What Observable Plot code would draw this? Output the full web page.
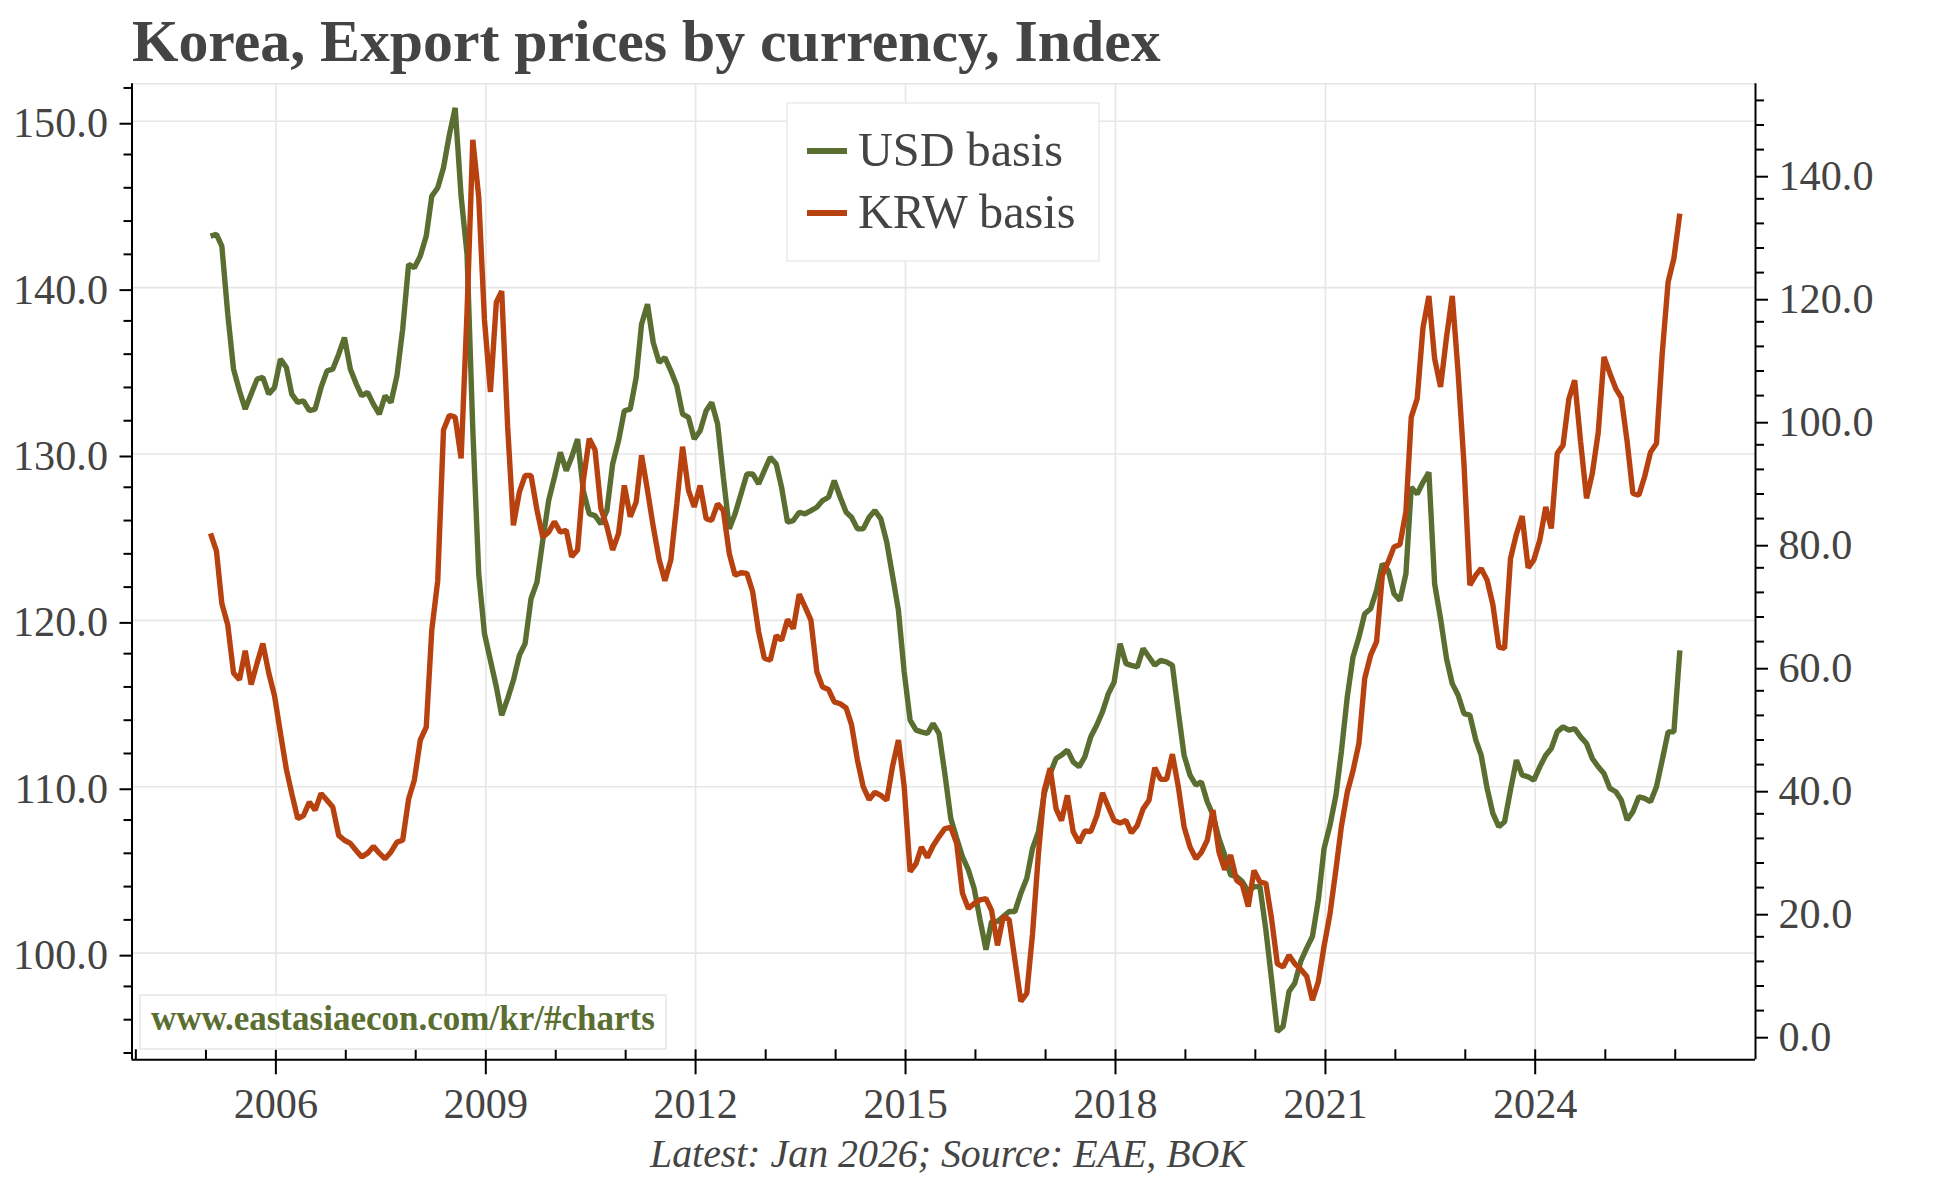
<!DOCTYPE html>
<html>
<head>
<meta charset="utf-8">
<script src="https://cdn.jsdelivr.net/npm/d3@7"></script>
<script src="https://cdn.jsdelivr.net/npm/@observablehq/plot@0.6"></script>
<style>
  html, body { margin: 0; padding: 0; background: #fff; overflow: hidden; }
  #page { position: relative; width: 1944px; height: 1178px; background: #fff; }
  #title, #caption { position: relative; width: 1944px; }
  #title span, #caption span { position: absolute; white-space: nowrap; line-height: 1; color: #444; }
  svg { display: block; }
</style>
</head>
<body>
<div id="page">
  <div id="title"><span></span></div>
  <div id="chart"></div>
  <div id="caption"><span></span></div>
</div>
<script>
// ---------------- data (monthly, Jan 2005 .. Jan 2026) ----------------
const startYear = 2005;
const startMonth = 0; // January

// Export price index, USD basis (left axis)
const usd = [
  143.1, 143.2, 142.5, 138.4, 135.1, 133.8, 132.7, 133.6, 134.5, 134.6, 133.6, 134.0, // 2005
  135.7, 135.2, 133.6, 133.1, 133.2, 132.6, 132.7, 134.0, 135.0, 135.1, 136.0, 137.0, // 2006
  135.1, 134.2, 133.5, 133.7, 133.0, 132.4, 133.5, 133.1, 134.7, 137.5, 141.4, 141.2, // 2007
  141.9, 143.1, 145.5, 146.0, 147.2, 149.2, 150.8, 145.5, 142.0, 131.5, 122.8, 119.2, // 2008
  117.6, 116.0, 114.3, 115.3, 116.4, 117.9, 118.6, 121.3, 122.3, 124.8, 127.2, 128.6, // 2009
  130.1, 129.0, 129.8, 130.9, 127.8, 126.4, 126.3, 125.8, 126.6, 129.4, 130.8, 132.6, // 2010
  132.7, 134.6, 137.8, 139.0, 136.7, 135.5, 135.8, 135.0, 134.1, 132.4, 132.2, 130.9, // 2011
  131.4, 132.6, 133.1, 131.8, 128.6, 125.5, 126.4, 127.6, 128.8, 128.8, 128.2, 129.0, // 2012
  129.8, 129.4, 128.0, 125.9, 126.0, 126.5, 126.4, 126.6, 126.8, 127.2, 127.4, 128.4, // 2013
  127.4, 126.5, 126.2, 125.5, 125.5, 126.2, 126.6, 126.1, 124.7, 122.7, 120.6, 116.9, // 2014
  114.0, 113.4, 113.3, 113.2, 113.8, 113.2, 110.8, 108.1, 106.9, 105.8, 105.0, 103.9, // 2015
  102.0, 100.2, 101.9, 101.9, 102.2, 102.5, 102.5, 103.6, 104.5, 106.3, 107.3, 109.6, // 2016
  110.8, 111.7, 111.9, 112.2, 111.5, 111.2, 111.8, 113.0, 113.7, 114.5, 115.6, 116.3, // 2017
  118.6, 117.4, 117.3, 117.2, 118.3, 117.8, 117.3, 117.6, 117.5, 117.3, 114.5, 111.9, // 2018
  110.7, 110.1, 110.3, 109.1, 108.3, 106.9, 105.9, 104.7, 104.6, 104.3, 103.7, 104.0, // 2019
  104.0, 101.4, 98.5, 95.3, 95.6, 97.7, 98.2, 99.5, 100.3, 101.0, 103.2, 106.3,       // 2020
  107.7, 109.5, 112.1, 115.4, 117.8, 119.0, 120.4, 120.7, 121.8, 123.4, 123.0, 121.6, // 2021
  121.2, 122.8, 128.0, 127.6, 128.3, 128.9, 122.2, 120.1, 117.7, 116.2, 115.5, 114.4, // 2022
  114.3, 112.8, 111.9, 109.9, 108.4, 107.6, 107.9, 109.8, 111.6, 110.7, 110.6, 110.4, // 2023
  111.2, 111.9, 112.3, 113.3, 113.6, 113.4, 113.5, 113.0, 112.6, 111.7, 111.2, 110.8, // 2024
  109.9, 109.7, 109.2, 108.0, 108.5, 109.4, 109.3, 109.1, 110.0, 111.6, 113.3, 113.3, // 2025
  118.2                                                                                // 2026
];

// Export price index, KRW basis (right axis)
const krw = [
  81.6, 78.7, 70.2, 66.7, 58.9, 57.8, 62.5, 57.0, 60.5, 63.7, 58.9, 55.2,       // 2005
  49.1, 43.2, 39.3, 35.2, 35.7, 37.9, 36.6, 39.3, 38.2, 37.1, 32.5, 31.7,       // 2006
  31.2, 30.0, 29.0, 29.6, 30.7, 29.6, 28.7, 29.8, 31.4, 31.7, 38.4, 41.5,       // 2007
  48.0, 50.1, 65.9, 73.9, 98.4, 100.8, 100.5, 93.8, 117.6, 145.6, 136.3, 116.3, // 2008
  104.6, 119.2, 121.0, 98.9, 82.9, 88.3, 91.0, 91.0, 85.4, 81.0, 81.8, 83.5,    // 2009
  81.8, 82.1, 77.8, 78.9, 90.2, 97.0, 95.2, 85.6, 82.7, 78.9, 81.6, 89.4,       // 2010
  84.3, 86.7, 94.3, 88.6, 82.7, 77.3, 73.9, 77.3, 86.4, 95.7, 88.6, 85.9,       // 2011
  89.4, 84.0, 83.7, 86.4, 85.3, 78.3, 74.8, 75.2, 75.1, 72.1, 65.6, 61.3,       // 2012
  61.0, 65.0, 64.2, 67.6, 66.1, 71.7, 69.7, 67.5, 59.1, 56.6, 56.2, 54.2,       // 2013
  53.9, 53.2, 50.5, 44.7, 40.4, 38.3, 39.5, 39.0, 38.2, 43.7, 48.0, 40.4,       // 2014
  26.6, 27.9, 30.6, 28.9, 30.8, 32.3, 33.6, 33.8, 31.2, 23.1, 20.6, 21.4,       // 2015
  22.0, 22.2, 20.3, 14.6, 19.3, 18.8, 12.2, 5.5, 6.8, 16.5, 29.6, 39.8,         // 2016
  43.4, 36.8, 34.9, 39.0, 33.1, 31.3, 33.2, 33.1, 35.6, 39.4, 37.1, 34.9,       // 2017
  34.5, 34.9, 32.9, 34.1, 36.8, 38.2, 43.5, 41.6, 41.6, 45.7, 40.4, 33.9,       // 2018
  30.6, 28.7, 29.7, 31.7, 36.6, 29.8, 26.9, 29.3, 25.2, 24.5, 20.9, 26.8,       // 2019
  24.9, 24.7, 19.1, 11.6, 11.1, 13.0, 11.6, 10.7, 9.6, 5.7, 8.7, 14.5,          // 2020
  19.8, 27.0, 33.9, 39.5, 43.0, 47.5, 58.0, 61.8, 64.0, 74.8, 77.0, 79.4,       // 2021
  79.8, 85.1, 100.5, 103.5, 115.0, 120.2, 110.0, 105.4, 113.5, 120.2, 107.6, 93.0, // 2022
  73.2, 74.8, 75.9, 74.0, 70.0, 63.1, 62.9, 77.5, 81.5, 84.4, 76.0, 77.3,       // 2023
  80.5, 85.9, 82.4, 94.6, 95.9, 103.5, 106.5, 96.5, 87.3, 91.3, 98.0, 110.3,    // 2024
  107.6, 105.1, 103.7, 96.5, 88.1, 87.8, 90.8, 94.8, 96.2, 110.8, 122.5, 126.3, // 2025
  133.6                                                                         // 2026
];

const seriesNames = ["USD basis", "KRW basis"];
const leftTicks = [100, 110, 120, 130, 140, 150];
const rightTicks = [0, 20, 40, 60, 80, 100, 120, 140];
const xTickYears = [2006, 2009, 2012, 2015, 2018, 2021, 2024];
const titleText = "Korea, Export prices by currency, Index";
const captionText = "Latest: Jan 2026; Source: EAE, BOK";
const watermarkText = "www.eastasiaecon.com/kr/#charts";

// ---------------- styling / layout ----------------
const GREEN = "#5a6e31";
const RED = "#b8420f";
const TEXT = "#444444";
const GRID = "#e6e6e6";
const SERIF = "'Liberation Serif', 'Times New Roman', serif";
const W = 1944, TITLE_H = 78, SVG_H = 1052, CAP_H = 48;
const LINE_W = 5.4;

// axis extents (left and right value ranges covered by the frame)
const leftDomain = [93.59, 152.25];
const rightDomain = [-4.0, 154.7];
const xDomain = [new Date(Date.UTC(2003, 11, 12)), new Date(Date.UTC(2027, 1, 24))];
const toLeft = r => leftDomain[0] + (r - rightDomain[0]) * (leftDomain[1] - leftDomain[0]) / (rightDomain[1] - rightDomain[0]);
const fromLeft = l => rightDomain[0] + (l - leftDomain[0]) * (rightDomain[1] - rightDomain[0]) / (leftDomain[1] - leftDomain[0]);
const fmt1 = v => { const r = Math.round(v * 10) / 10; return (Math.abs(r) < 1e-9 ? 0 : r).toFixed(1); };

// text fitting helper
const ctx = document.createElement("canvas").getContext("2d");
function fit(text, style, target) {
  ctx.font = `${style} 100px ${SERIF}`;
  return 100 * target / ctx.measureText(text).width;
}
const tickFS = fit("150.0", "normal", 95);
const titleFS = fit(titleText, "bold", 1029);
const legendFS = fit("USD basis", "normal", 205);
const wmFS = fit(watermarkText, "bold", 504);
const capFS = fit(captionText, "italic", 596);

// ---------------- build records ----------------
const dates = usd.map((_, i) => new Date(Date.UTC(startYear, startMonth + i, 25)));
const records = dates.map((date, i) => ({date, usd: usd[i], krw: krw[i]}));

const leftMinor = d3.range(94, 153, 2).filter(v => v % 10 !== 0);
const rightMinor = d3.range(4, 155, 4).filter(v => v % 20 !== 0);
const xMajor = xTickYears.map(y => new Date(Date.UTC(y, 0, 1)));
const xMinor = d3.range(2004, 2027).map(y => new Date(Date.UTC(y, 0, 1)));

const axisStyle = {stroke: "#000", strokeWidth: 2, fill: TEXT, label: null};

const chart = Plot.plot({
  width: W,
  height: SVG_H,
  marginLeft: 131.5,
  marginRight: W - 1755,
  marginTop: 5.3,
  marginBottom: 70.7,
  x: {type: "utc", domain: xDomain, axis: null},
  y: {domain: leftDomain, axis: null},
  style: {fontFamily: SERIF, fontSize: tickFS + "px", color: TEXT, background: "#fff"},
  marks: [
    Plot.gridX(xMajor, {stroke: GRID, strokeOpacity: 1, strokeWidth: 1.6}),
    Plot.gridY(leftTicks, {stroke: GRID, strokeOpacity: 1, strokeWidth: 1.6}),
    Plot.ruleY([leftDomain[1]], {stroke: GRID, strokeWidth: 1.6}),
    Plot.lineY(records, {x: "date", y: "usd", stroke: GREEN, strokeWidth: LINE_W, strokeLinejoin: "bevel", strokeLinecap: "butt"}),
    Plot.lineY(records, {x: "date", y: d => toLeft(d.krw), stroke: RED, strokeWidth: LINE_W, strokeLinejoin: "bevel", strokeLinecap: "butt"}),
    Plot.ruleX([xDomain[0]], {stroke: "#000", strokeWidth: 2}),
    Plot.ruleX([xDomain[1]], {stroke: "#000", strokeWidth: 2}),
    Plot.ruleY([leftDomain[0]], {stroke: "#000", strokeWidth: 2}),
    Plot.axisY(leftTicks, {...axisStyle, anchor: "left", tickSize: 12, tickPadding: 12, dy: 2.5, tickFormat: fmt1}),
    Plot.axisY(leftMinor, {...axisStyle, anchor: "left", tickSize: 8, tickFormat: () => ""}),
    Plot.axisY(rightTicks.map(toLeft), {...axisStyle, anchor: "right", tickSize: 12, tickPadding: 11, dy: 2.5, tickFormat: d => fmt1(fromLeft(d))}),
    Plot.axisY(rightMinor.map(toLeft), {...axisStyle, anchor: "right", tickSize: 8, tickFormat: () => ""}),
    Plot.axisX(xMajor, {...axisStyle, anchor: "bottom", tickSize: 15, tickPadding: 13, tickFormat: d => String(d.getUTCFullYear())}),
    Plot.axisX(xMinor, {...axisStyle, anchor: "bottom", tickSize: 10, dy: -10, tickFormat: () => ""})
  ]
});
document.getElementById("chart").appendChild(chart);

// ---------------- legend & watermark (inside the plot frame) ----------------
const svg = d3.select(chart);
const top0 = TITLE_H;
const lg = svg.append("g").attr("class", "legend").attr("text-anchor", "start");
lg.append("rect").attr("x", 787).attr("y", 103 - top0).attr("width", 312).attr("height", 158)
  .attr("fill", "#fff").attr("stroke", "#ebebeb").attr("stroke-width", 1.6);
[[GREEN, 151, 166], [RED, 213, 228]].forEach(([c, ly, by], i) => {
  lg.append("line").attr("x1", 807).attr("x2", 847).attr("y1", ly - top0).attr("y2", ly - top0)
    .attr("stroke", c).attr("stroke-width", 6);
  lg.append("text").attr("x", 858).attr("y", by - top0).attr("text-anchor", "start").text(seriesNames[i])
    .attr("font-family", SERIF).attr("font-size", legendFS).attr("fill", TEXT);
});
const wm = svg.append("g").attr("class", "watermark").attr("text-anchor", "start");
wm.append("rect").attr("x", 140).attr("y", 995 - top0).attr("width", 526).attr("height", 54)
  .attr("fill", "#fff").attr("fill-opacity", 0.7).attr("stroke", "#e8e8e8").attr("stroke-width", 1.6);
wm.append("text").attr("x", 151).attr("y", 1030 - top0).attr("text-anchor", "start").text(watermarkText)
  .attr("font-family", SERIF).attr("font-weight", "bold").attr("font-size", wmFS).attr("fill", GREEN);

// ---------------- title & caption ----------------
const tDiv = document.getElementById("title");
tDiv.style.height = TITLE_H + "px";
const tSpan = tDiv.querySelector("span");
tSpan.textContent = titleText;
Object.assign(tSpan.style, {left: "132px", top: (62 - 0.8375 * titleFS) + "px", fontFamily: SERIF, fontWeight: "bold", fontSize: titleFS + "px"});

const cDiv = document.getElementById("caption");
cDiv.style.height = CAP_H + "px";
const cSpan = cDiv.querySelector("span");
cSpan.textContent = captionText;
Object.assign(cSpan.style, {left: (948 - 298) + "px", top: (1168 - TITLE_H - SVG_H - 0.8375 * capFS) + "px", fontFamily: SERIF, fontStyle: "italic", fontSize: capFS + "px"});
</script>
</body>
</html>
